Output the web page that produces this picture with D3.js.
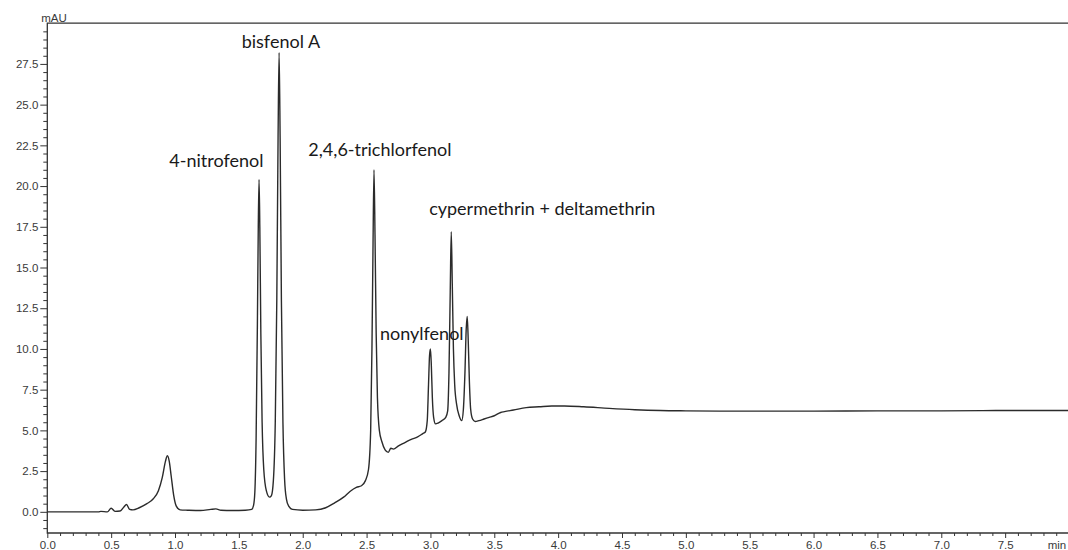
<!DOCTYPE html>
<html>
<head>
<meta charset="utf-8">
<script src="https://cdn.jsdelivr.net/npm/d3@7/dist/d3.min.js"></script>
<style>
  html, body { margin: 0; padding: 0; background: #fff; }
  svg { display: block; }
  .tick text { font-family: "Liberation Sans", Arial, sans-serif; font-size: 11.5px; fill: #3a3a3a; }
  .peak-label { font-family: Lato, "Open Sans", sans-serif; font-size: 18px; fill: #1a1a1a; }
</style>
</head>
<body>
<svg id="chart" width="1068" height="550"></svg>
<script>
// Retention time (min) and detector response (mAU) of the chromatogram trace
const retentionTime = [
  0.00, 0.20, 0.40, 0.42, 0.47, 0.50, 0.53, 0.57, 0.60, 0.62, 0.645, 0.67, 0.72, 0.78, 0.83, 0.87,
  0.90, 0.925, 0.94, 0.955, 0.97, 0.99, 1.01, 1.04, 1.10, 1.20, 1.28, 1.32, 1.36, 1.45, 1.55, 1.60,
  1.615, 1.625, 1.635, 1.645, 1.652, 1.658, 1.664, 1.672, 1.682, 1.695, 1.715, 1.74, 1.755, 1.77,
  1.785, 1.797, 1.807, 1.815, 1.823, 1.833, 1.845, 1.858, 1.872, 1.89, 1.92, 2.00, 2.10, 2.18,
  2.25, 2.32, 2.37, 2.42, 2.46, 2.49, 2.515, 2.532, 2.542, 2.55, 2.558, 2.566, 2.575, 2.585, 2.60,
  2.62, 2.645, 2.67, 2.69, 2.71, 2.75, 2.80, 2.85, 2.90, 2.94, 2.96, 2.975, 2.985, 2.993, 3.00,
  3.007, 3.015, 3.025, 3.04, 3.06, 3.09, 3.12, 3.135, 3.145, 3.155, 3.163, 3.171, 3.18, 3.19,
  3.205, 3.225, 3.245, 3.258, 3.27, 3.28, 3.288, 3.296, 3.305, 3.315, 3.33, 3.35, 3.38, 3.42,
  3.46, 3.50, 3.55, 3.58, 3.65, 3.75, 3.85, 3.95, 4.05, 4.20, 4.40, 4.60, 4.80, 5.00, 5.50,
  6.00, 6.50, 7.00, 7.50, 8.00
];
const absorbance = [
  0.00, 0.00, 0.00, 0.03, 0.00, 0.22, 0.03, 0.05, 0.30, 0.45, 0.15, 0.12, 0.25, 0.50, 0.80, 1.30,
  2.10, 3.10, 3.45, 3.10, 2.20, 1.00, 0.35, 0.12, 0.10, 0.08, 0.15, 0.18, 0.10, 0.08, 0.10, 0.15,
  0.40, 1.20, 4.50, 11.5, 17.5, 20.4, 17.5, 11.0, 5.50, 2.60, 1.30, 0.90, 1.00, 1.90,
  5.50, 13.0, 23.0, 28.2, 23.0, 13.0, 5.50, 2.00, 0.80, 0.35, 0.15, 0.10, 0.12, 0.25,
  0.55, 0.90, 1.25, 1.50, 1.60, 1.90, 2.60, 5.00, 10.0, 16.0, 21.0, 17.0, 11.0, 7.00, 5.00,
  4.30, 3.80, 3.65, 3.90, 3.85, 4.05, 4.25, 4.45, 4.60, 4.80, 4.90, 5.60, 7.80, 9.60, 10.0,
  9.00, 7.00, 5.80, 5.40, 5.45, 5.60, 5.80, 6.20, 8.50, 13.5, 17.2, 14.0, 10.0, 7.80,
  6.60, 5.90, 5.60, 6.30, 8.50, 11.2, 12.0, 10.5, 8.00, 6.30, 5.70, 5.55, 5.60, 5.70,
  5.80, 5.90, 6.10, 6.15, 6.25, 6.40, 6.45, 6.50, 6.50, 6.45, 6.35, 6.27, 6.22, 6.20, 6.18,
  6.18, 6.20, 6.20, 6.22, 6.22
];

// Compound names and where each name sits (time, mAU of the text baseline)
const compoundNames = ["4-nitrofenol", "bisfenol A", "2,4,6-trichlorfenol", "nonylfenol", "cypermethrin + deltamethrin"];
const nameTimes = [0.955, 1.522, 2.044, 2.605, 2.99];
const nameLevels = [21.2, 28.5, 21.85, 10.55, 18.2];

// Axis ticks
const xMajorTicks = [0, 0.5, 1, 1.5, 2, 2.5, 3, 3.5, 4, 4.5, 5, 5.5, 6, 6.5, 7, 7.5];
const yMajorTicks = [0, 2.5, 5, 7.5, 10, 12.5, 15, 17.5, 20, 22.5, 25, 27.5];

const svg = d3.select("#chart");
const plotLeft = 47.3, plotRight = 1069, plotTop = 23.2, plotBottom = 533;

const x = d3.scaleLinear().domain([0, 8]).range([plotLeft, plotRight]);
const y = d3.scaleLinear().domain([-1.3, 30]).range([plotBottom, plotTop]);

const axisColor = "#333";

// minor ticks
const xMinor = d3.range(1, 80).map(i => i / 10).filter(v => Math.abs(v * 2 - Math.round(v * 2)) > 1e-6);
const yMinor = d3.range(-2, 60).map(i => i / 2).filter(v => Math.abs(v / 2.5 - Math.round(v / 2.5)) > 1e-6 && v < 30);

// x axis
const xAxisG = svg.append("g").attr("transform", `translate(0,${plotBottom})`);
xAxisG.call(d3.axisBottom(x).tickValues(xMinor).tickSize(3).tickFormat(""))
  .call(g => g.select(".domain").remove());
xAxisG.append("g").call(d3.axisBottom(x).tickValues(xMajorTicks).tickSize(5).tickPadding(2.5).tickFormat(d3.format(".1f")))
  .call(g => g.select(".domain").remove());
xAxisG.selectAll("line").attr("stroke", axisColor);

// y axis
const yAxisG = svg.append("g").attr("transform", `translate(${plotLeft},0)`);
yAxisG.call(d3.axisLeft(y).tickValues(yMinor).tickSize(4).tickFormat(""))
  .call(g => g.select(".domain").remove());
yAxisG.append("g").call(d3.axisLeft(y).tickValues(yMajorTicks).tickSize(7).tickPadding(2).tickFormat(d3.format(".1f")))
  .call(g => g.select(".domain").remove());
yAxisG.selectAll("line").attr("stroke", axisColor);

// frame lines: top, left, bottom
svg.append("path")
  .attr("d", `M${plotRight},${plotTop}H${plotLeft}V${plotBottom}H${plotRight}`)
  .attr("fill", "none").attr("stroke", axisColor).attr("stroke-width", 1.3);

// axis unit labels
svg.append("text").attr("x", 54).attr("y", 22).attr("text-anchor", "middle")
  .attr("font-family", "Liberation Sans, Arial, sans-serif").attr("font-size", 11.5).attr("fill", "#3a3a3a")
  .text("mAU");
svg.append("text").attr("x", 1057).attr("y", plotBottom + 15.5).attr("text-anchor", "middle")
  .attr("font-family", "Liberation Sans, Arial, sans-serif").attr("font-size", 11.5).attr("fill", "#3a3a3a")
  .text("min");

// chromatogram trace
const trace = retentionTime.map((t, i) => [t, absorbance[i]]);
const line = d3.line().x(d => x(d[0])).y(d => y(d[1])).curve(d3.curveMonotoneX);
svg.append("path")
  .datum(trace)
  .attr("d", line)
  .attr("fill", "none")
  .attr("stroke", "#2b2b2b")
  .attr("stroke-width", 1.4)
  .attr("stroke-linejoin", "round");

// compound names
svg.selectAll("text.peak-label")
  .data(compoundNames)
  .join("text")
  .attr("class", "peak-label")
  .attr("x", (d, i) => x(nameTimes[i]))
  .attr("y", (d, i) => y(nameLevels[i]))
  .text(d => d);
</script>
</body>
</html>
